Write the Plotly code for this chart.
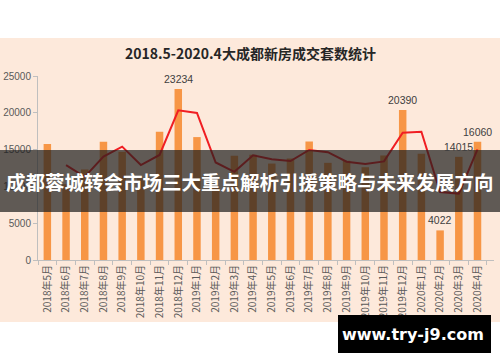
import plotly.graph_objects as go

months = ["2018年5月", "2018年6月", "2018年7月", "2018年8月", "2018年9月", "2018年10月",
          "2018年11月", "2018年12月", "2019年1月", "2019年2月", "2019年3月", "2019年4月",
          "2019年5月", "2019年6月", "2019年7月", "2019年8月", "2019年9月", "2019年10月",
          "2019年11月", "2019年12月", "2020年1月", "2020年2月", "2020年3月", "2020年4月"]

sales = [15750, 10300, 12300, 16050, 14700, 11100, 17430, 23234, 16700, 9800, 14150, 14300,
         13100, 13800, 16100, 13200, 13500, 12600, 14200, 20390, 14450, 4022, 14015, 16060]

trend = [None, 12900, 11300, 14050, 15400, 12900, 14270, 20330, 19970, 13250, 11980, 14220,
         13700, 13450, 14950, 14650, 13350, 13050, 13400, 17300, 17420, 9240, 9020, 15040]

labelled = ["2018年12月", "2019年12月", "2020年2月", "2020年3月", "2020年4月"]

y_ticks = [0, 5000, 10000, 15000, 20000, 25000]
y_tick_labels = ["0", "5000", "10000", "15000", "20000", "25000"]

title_text = "2018.5-2020.4大成都新房成交套数统计"
banner_text = "成都蓉城转会市场三大重点解析引援策略与未来发展方向"
watermark_text = "www.try-j9.com"

fig = go.Figure()
fig.add_trace(go.Bar(
    x=months, y=sales, width=0.4,
    marker=dict(color="#F79646", line=dict(width=0)),
    showlegend=False,
))
fig.add_trace(go.Scatter(
    x=months, y=trend, mode="lines",
    line=dict(color="#F01E23", width=2),
    showlegend=False,
))

# plot area: x 38..494, y 76..260 (px)
def py(Y):
    return (260 - Y) / 184.0

def px(X):
    return (X - 38) / 456.0

shapes = [
    dict(type="rect", xref="paper", yref="paper", x0=-0.2, x1=1.2, y0=py(322), y1=py(38),
         fillcolor="#FDE9DB", line=dict(width=0), layer="below"),
    dict(type="rect", xref="paper", yref="paper", x0=-0.2, x1=1.2, y0=py(212), y1=py(150),
         fillcolor="rgba(28,28,28,0.7)", line=dict(width=0), layer="above"),
    dict(type="rect", xref="paper", yref="paper", x0=px(338), x1=px(491), y0=py(353), y1=py(315),
         fillcolor="#000000", line=dict(width=0), layer="above"),
]

annotations = []
for m, v in zip(months, sales):
    if m in labelled:
        annotations.append(dict(
            text=str(v), x=m, y=v, xref="x", yref="y", showarrow=False,
            xanchor="center", yanchor="bottom", yshift=2,
            font=dict(family="Liberation Sans, Arial, sans-serif", size=10.5, color="#404040")))

annotations += [
    dict(text="<b>" + title_text + "</b>", xref="paper", yref="paper", x=px(250), y=py(53),
         showarrow=False, xanchor="center", yanchor="middle",
         font=dict(family="Noto Sans CJK SC, sans-serif", size=14, color="#262626")),
    dict(text="<b>" + banner_text + "</b>", xref="paper", yref="paper", x=px(250), y=py(181),
         showarrow=False, xanchor="center", yanchor="middle",
         font=dict(family="Noto Sans CJK SC, sans-serif", size=19.5, color="#FFFFFF")),
    dict(text="<b>" + watermark_text + "</b>", xref="paper", yref="paper", x=px(413), y=py(334),
         showarrow=False, xanchor="center", yanchor="middle",
         font=dict(family="DejaVu Sans, sans-serif", size=16, color="#FFFFFF")),
]

fig.update_layout(
    width=500, height=362,
    margin=dict(l=38, r=6, t=76, b=102, autoexpand=False),
    paper_bgcolor="#FFFFFF", plot_bgcolor="rgba(0,0,0,0)",
    shapes=shapes, annotations=annotations,
    bargap=0.6, hovermode=False,
    xaxis=dict(type="category", showline=True, linecolor="#BFBFBF", linewidth=1,
               ticks="outside", tickson="boundaries", ticklen=4, tickcolor="#BFBFBF",
               tickangle=-90, showgrid=False, zeroline=False,
               tickfont=dict(family="Noto Sans CJK SC, Liberation Sans, sans-serif", size=10, color="#595959")),
    yaxis=dict(range=[0, 25000], tickvals=y_ticks, ticktext=y_tick_labels,
               showline=True, linecolor="#BFBFBF", linewidth=1, ticks="outside", ticklen=4,
               tickcolor="#BFBFBF", showgrid=False, zeroline=False,
               tickfont=dict(family="Liberation Sans, Arial, sans-serif", size=10, color="#595959")),
)

fig.write_html("out.html", config={"displayModeBar": False},
               post_script="document.body.style.margin='0';document.body.style.padding='0';document.body.style.overflow='hidden';")
